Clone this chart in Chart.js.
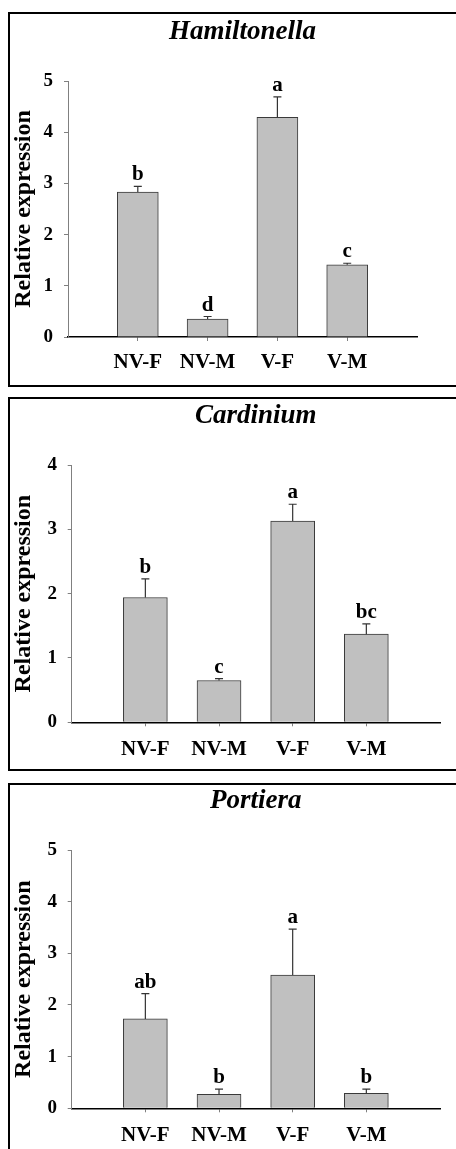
<!DOCTYPE html>
<html>
<head>
<meta charset="utf-8">
<script src="https://cdn.jsdelivr.net/npm/chart.js@4.4.1/dist/chart.umd.min.js"></script>
<style>
  body { margin: 0; background: #fff; width: 456px; height: 1149px; overflow: hidden; position: relative; }
  .box { position: absolute; left: 8px; width: 470px; border: 2px solid #000; box-sizing: border-box; }
  canvas { position: absolute; left: 0; }
</style>
</head>
<body>
<div class="box" style="top:12px;height:375px"></div>
<div class="box" style="top:397px;height:374px"></div>
<div class="box" style="top:783px;height:380px"></div>
<canvas id="chart_ham" width="456" height="375" style="top:12px"></canvas>
<canvas id="chart_car" width="456" height="374" style="top:397px"></canvas>
<canvas id="chart_por" width="456" height="366" style="top:783px"></canvas>
<script>
const categories = ['NV-F', 'NV-M', 'V-F', 'V-M'];

const hamValues = [2.83, 0.35, 4.29, 1.41];
const hamErrors = [0.11, 0.05, 0.40, 0.03];
const hamLetters = ['b', 'd', 'a', 'c'];
const hamMax = 5;

const carValues = [1.94, 0.65, 3.13, 1.37];
const carErrors = [0.29, 0.03, 0.26, 0.16];
const carLetters = ['b', 'c', 'a', 'bc'];
const carMax = 4;

const porValues = [1.73, 0.27, 2.58, 0.29];
const porErrors = [0.49, 0.10, 0.89, 0.08];
const porLetters = ['ab', 'b', 'a', 'b'];
const porMax = 5;

const serif = "'Liberation Serif', 'Times New Roman', serif";

// empty slot at each end so the bars sit at 1..4 of a 0..5 axis
const pad = arr => [null, ...arr, null];

const extras = {
    id: 'extras',
    afterDatasetsDraw(chart, args, opts) {
        const ctx = chart.ctx;
        const y = chart.scales.y;
        const meta = chart.getDatasetMeta(0);
        const values = chart.data.datasets[0].data;
        ctx.save();
        meta.data.forEach((bar, i) => {
            const v = values[i];
            if (v == null) return;
            const top = y.getPixelForValue(v + opts.errors[i]);
            ctx.strokeStyle = '#333';
            ctx.lineWidth = 1.2;
            ctx.beginPath();
            ctx.moveTo(bar.x, bar.y);
            ctx.lineTo(bar.x, top);
            ctx.moveTo(bar.x - 4, top);
            ctx.lineTo(bar.x + 4, top);
            ctx.stroke();
            ctx.fillStyle = '#000';
            ctx.font = 'bold 21px ' + serif;
            ctx.textAlign = 'center';
            ctx.textBaseline = 'alphabetic';
            ctx.fillText(opts.letters[i], bar.x, top - 6);
        });
        ctx.restore();
    },
    afterDraw(chart, args, opts) {
        const ctx = chart.ctx;
        const ca = chart.chartArea;
        ctx.save();
        ctx.fillStyle = '#000';
        ctx.font = 'italic bold 27px ' + serif;
        ctx.textAlign = 'center';
        ctx.textBaseline = 'alphabetic';
        ctx.fillText(opts.title, (ca.left + ca.right) / 2, opts.titleY);
        ctx.restore();
    }
};

function makeChart(id, title, values, errors, letters, yMax, L) {
    const el = document.getElementById(id);
    return new Chart(el, {
        type: 'bar',
        data: {
            labels: ['', ...categories, ''],
            datasets: [{
                data: pad(values),
                backgroundColor: '#c0c0c0',
                borderColor: '#3a3a3a',
                borderWidth: 1,
                barThickness: L.barWidth
            }]
        },
        options: {
            responsive: false,
            animation: false,
            layout: { padding: { top: L.top, right: L.right, bottom: 0, left: 0 } },
            plugins: {
                legend: { display: false },
                tooltip: { enabled: false },
                extras: { title: title, titleY: L.titleY, errors: pad(errors), letters: pad(letters) }
            },
            scales: {
                x: {
                    offset: false,
                    grid: {
                        offset: false,
                        drawOnChartArea: false,
                        tickLength: 4,
                        color: c => (c.index === 0 || c.index === 5) ? 'rgba(0,0,0,0)' : '#808080'
                    },
                    border: { color: '#000', width: 1.5 },
                    ticks: {
                        autoSkip: false, maxRotation: 0, color: '#000', padding: L.xPad,
                        font: { family: serif, size: 21, weight: 'bold' }
                    },
                    afterFit: s => { s.height = L.xHeight; }
                },
                y: {
                    min: 0, max: yMax,
                    grid: { drawOnChartArea: false, tickLength: 4, color: '#808080' },
                    border: { color: '#808080', width: 1 },
                    ticks: {
                        stepSize: 1, color: '#000', padding: L.yPad,
                        font: { family: serif, size: 19, weight: 'bold' }
                    },
                    title: {
                        display: true, text: 'Relative expression', color: '#000',
                        font: { family: serif, size: 24, weight: 'bold' },
                        padding: { top: 9.6, bottom: 0 }
                    },
                    afterFit: s => { s.width = L.left; }
                }
            }
        },
        plugins: [extras]
    });
}

makeChart('chart_ham', 'Hamiltonella', hamValues, hamErrors, hamLetters, hamMax,
    { top: 69, left: 68, right: 39, xHeight: 50, titleY: 27, barWidth: 41, xPad: 9.4, yPad: 11 });
makeChart('chart_car', 'Cardinium', carValues, carErrors, carLetters, carMax,
    { top: 68, left: 71.7, right: 16, xHeight: 48.7, titleY: 26, barWidth: 44, xPad: 11.1, yPad: 10.7 });
makeChart('chart_por', 'Portiera', porValues, porErrors, porLetters, porMax,
    { top: 67, left: 71.7, right: 16, xHeight: 40.7, titleY: 25, barWidth: 44, xPad: 11.1, yPad: 10.7 });
</script>
</body>
</html>
